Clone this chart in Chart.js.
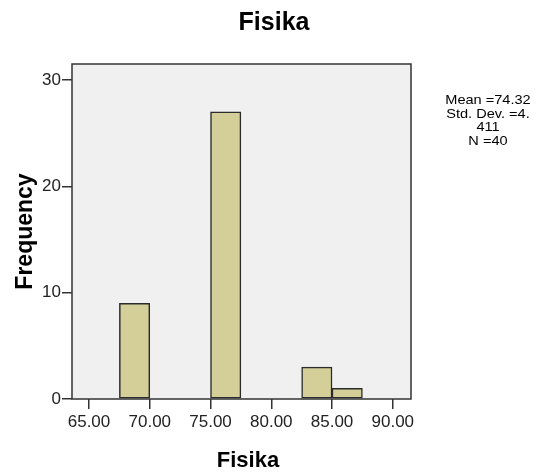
<!DOCTYPE html>
<html>
<head>
<meta charset="utf-8">
<script src="https://cdn.jsdelivr.net/npm/chart.js@4.4.1/dist/chart.umd.min.js"></script>
<style>
  html, body { margin: 0; padding: 0; background: #ffffff; }
  #histo { display: block; }
</style>
</head>
<body>
<canvas id="histo" width="537" height="473"></canvas>
<script>
// data (bin width 2.5)
const binCenters = [68.75, 76.25, 83.75, 86.25];
const frequencies = [9, 27, 3, 1];
const xTicks = [65, 70, 75, 80, 85, 90];
const yTicks = [0, 10, 20, 30];
const chartTitle = 'Fisika';
const xTitle = 'Fisika';
const yTitle = 'Frequency';
const statLines = ['Mean =74.32', 'Std. Dev. =4.', '411', 'N =40'];

const axisColor = '#333333';
const fontFamily = "'Liberation Sans', Arial, sans-serif";

// background, frame and the texts that sit outside the axes
const spssFrame = {
    id: 'spssFrame',
    beforeDraw(chart) {
        const { ctx, chartArea: a } = chart;
        ctx.save();
        ctx.fillStyle = '#f0f0f0';
        ctx.fillRect(a.left, a.top, a.right - a.left, a.bottom - a.top);
        ctx.restore();
    },
    afterDraw(chart) {
        const { ctx, chartArea: a } = chart;
        ctx.save();
        ctx.strokeStyle = axisColor;
        ctx.lineWidth = 1.5;
        ctx.strokeRect(a.left, a.top, a.right - a.left, a.bottom - a.top);

        ctx.fillStyle = '#000000';
        ctx.textAlign = 'center';
        ctx.textBaseline = 'alphabetic';
        ctx.font = 'bold 25px ' + fontFamily;
        ctx.fillText(chartTitle, 274, 30);

        ctx.font = 'bold 22px ' + fontFamily;
        ctx.fillText(xTitle, 248, 467);

        // stats box, slightly stretched like the original
        ctx.font = '13px ' + fontFamily;
        statLines.forEach((line, i) => {
            ctx.save();
            ctx.translate(488, 104 + i * 13.5);
            ctx.scale(1.12, 1);
            ctx.fillText(line, 0, 0);
            ctx.restore();
        });
        ctx.restore();
    }
};

const ctx = document.getElementById('histo').getContext('2d');
const chart = new Chart(ctx, {
    type: 'bar',
    data: {
        datasets: [{
            label: 'Frequency',
            data: binCenters.map((x, i) => ({ x: x, y: frequencies[i] })),
            backgroundColor: '#d4cf99',
            borderColor: '#2b2b2b',
            borderWidth: 1.5,
            borderSkipped: false,
            barPercentage: 1,
            categoryPercentage: 1
        }]
    },
    options: {
        responsive: false,
        animation: false,
        devicePixelRatio: 1,
        layout: {
            padding: { left: 0, right: 126, top: 64, bottom: 0 }
        },
        plugins: {
            legend: { display: false },
            tooltip: { enabled: false },
            title: { display: false }
        },
        scales: {
            x: {
                type: 'linear',
                offset: false,
                min: 63.6,
                max: 91.5,
                afterBuildTicks: (scale) => { scale.ticks = xTicks.map(v => ({ value: v })); },
                afterFit: (scale) => { scale.height = 74; },
                ticks: {
                    color: '#222222',
                    font: { family: fontFamily, size: 17 },
                    padding: 3,
                    maxRotation: 0,
                    callback: (v) => Number(v).toFixed(2)
                },
                grid: {
                    offset: false,
                    drawOnChartArea: false,
                    drawTicks: true,
                    tickLength: 10,
                    color: axisColor,
                    lineWidth: 1.5
                },
                border: { display: false }
            },
            y: {
                min: 0,
                max: 31.5,
                afterBuildTicks: (scale) => { scale.ticks = yTicks.map(v => ({ value: v })); },
                afterFit: (scale) => { scale.width = 72; },
                ticks: {
                    color: '#222222',
                    font: { family: fontFamily, size: 17 },
                    padding: 1
                },
                grid: {
                    drawOnChartArea: false,
                    drawTicks: true,
                    tickLength: 10,
                    color: axisColor,
                    lineWidth: 1.5
                },
                border: { display: false },
                title: {
                    display: true,
                    text: yTitle,
                    color: '#000000',
                    font: { family: fontFamily, size: 23, weight: 'bold' },
                    padding: { top: 12, bottom: 0 }
                }
            }
        }
    },
    plugins: [spssFrame]
});
</script>
</body>
</html>
